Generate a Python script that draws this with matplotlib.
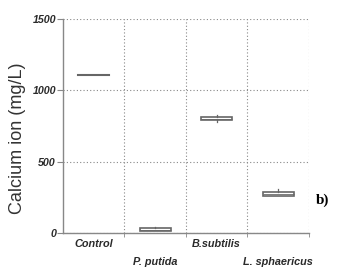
import matplotlib.pyplot as plt

labels = ['Control', 'P. putida', 'B.subtilis', 'L. sphaericus']
# box statistics (mg/L)
whislo = [1108, 12, 780, 258]
q1 = [1108, 15, 790, 260]
med = [1108, 25, 802, 272]
q3 = [1108, 33, 815, 285]
whishi = [1108, 40, 827, 310]
yticks = [0, 500, 1000, 1500]

stats = []
for i in range(len(labels)):
    stats.append({'whislo': whislo[i], 'q1': q1[i], 'med': med[i],
                  'q3': q3[i], 'whishi': whishi[i], 'fliers': []})

fig = plt.figure(figsize=(3.44, 2.67), dpi=100)
ax = fig.add_axes([0.183, 0.127, 0.715, 0.802])

gray = '#666666'
ax.bxp(stats, positions=[1, 2, 3, 4], widths=0.5, showcaps=False,
       showfliers=False, patch_artist=True,
       boxprops=dict(facecolor='white', edgecolor=gray, linewidth=1.2),
       medianprops=dict(color=gray, linewidth=0.6),
       whiskerprops=dict(color=gray, linewidth=0.9))
# control has no spread, so its median is the whole mark
ax.plot([0.75, 1.25], [med[0], med[0]], color=gray, linewidth=1.5)

ax.set_xlim(0.5, 4.5)
ax.set_ylim(0, 1500)
ax.set_yticks(yticks)
ax.set_yticklabels([str(v) for v in yticks])

ax.set_xticks([1, 2, 3, 4])
ax.set_xticklabels(labels)
ax.set_xticks([1.5, 2.5, 3.5, 4.5], minor=True)
ax.tick_params(axis='x', which='major', length=0)
ax.tick_params(axis='x', which='minor', length=3, color='#888888')
for i, t in enumerate(ax.xaxis.get_major_ticks()):
    t.set_pad(4 if i % 2 == 0 else 17)

ax.tick_params(axis='y', length=4, color='#888888', pad=1)
for t in ax.get_xticklabels() + ax.get_yticklabels():
    t.set_fontweight('bold')
    t.set_fontstyle('italic')
    t.set_fontfamily('Liberation Sans')
    t.set_color('#2a2a2a')
for t in ax.get_xticklabels():
    t.set_fontsize(7.8)
for t in ax.get_yticklabels():
    t.set_fontsize(7.7)

ax.yaxis.grid(True, linestyle=(0, (1, 2)), color='#888888', linewidth=0.8)
ax.xaxis.grid(True, which='minor', linestyle=(0, (1, 2)), color='#888888', linewidth=0.8)
ax.set_axisbelow(True)

for s in ['top', 'right']:
    ax.spines[s].set_visible(False)
for s in ['left', 'bottom']:
    ax.spines[s].set_color('#888888')
    ax.spines[s].set_linewidth(1.0)

ax.set_ylabel('Calcium ion (mg/L)', fontsize=13, family='Liberation Sans',
              color='#333333')
ax.yaxis.set_label_coords(-0.15, 0.445)

fig.text(0.937, 0.25, 'b)', fontsize=11, fontweight='bold',
         family='Liberation Serif', color='black', ha='center', va='center')

fig.savefig('out.png', dpi=100)
